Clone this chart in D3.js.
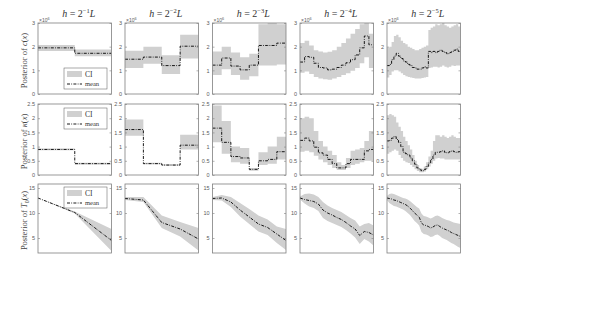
<!DOCTYPE html>
<html>
<head>
<meta charset="utf-8">
<script src="https://cdn.jsdelivr.net/npm/d3@7"></script>
<style>
  body { margin: 0; background: #fff; }
  svg { display: block; }
</style>
</head>
<body>
<div class="chart"></div>
<script>
// ---- data ----
const h_exponents = ["-1", "-2", "-3", "-4", "-5"];

// row 1 : c(x), x10^6, piecewise constant
const c_mean_1 = [1.95, 1.72];
const c_lo_1 = [1.82, 1.6];
const c_hi_1 = [2.07, 1.88];
const c_mean_2 = [1.47, 1.56, 1.2, 2.02];
const c_lo_2 = [1.1, 1.28, 0.85, 1.5];
const c_hi_2 = [1.83, 2.0, 1.64, 2.5];
const c_mean_3 = [1.22, 1.52, 1.18, 1.02, 1.22, 2.05, 2.05, 2.15];
const c_lo_3 = [0.8, 1.05, 0.8, 0.6, 0.75, 1.2, 1.2, 1.25];
const c_hi_3 = [1.8, 2.0, 1.75, 1.55, 1.7, 2.95, 3.0, 2.95];
const c_mean_4 = [1.35, 1.58, 1.55, 1.3, 1.12, 1.1, 1.02, 1.05, 1.12, 1.22, 1.32, 1.45, 1.65, 1.95, 2.45, 2.08];
const c_lo_4 = [0.9, 0.95, 0.85, 0.72, 0.65, 0.62, 0.6, 0.65, 0.72, 0.8, 0.88, 0.98, 1.1, 1.3, 1.55, 1.1];
const c_hi_4 = [2.15, 2.25, 2.05, 1.85, 1.8, 1.75, 1.78, 1.85, 2.0, 2.15, 2.35, 2.55, 2.75, 2.95, 3.0, 2.55];
const c_mean_5 = [1.2, 1.25, 1.45, 1.6, 1.72, 1.6, 1.5, 1.4, 1.35, 1.25, 1.2, 1.12, 1.1, 1.05, 1.05, 1.1,
                  1.15, 1.1, 1.8, 1.75, 1.8, 1.75, 1.8, 1.85, 1.8, 1.75, 1.7, 1.75, 1.8, 1.85, 1.9, 1.8];
const c_lo_5 = [0.7, 0.8, 0.95, 1.0, 1.0, 0.95, 0.88, 0.8, 0.75, 0.72, 0.7, 0.68, 0.66, 0.65, 0.66, 0.68,
                0.7, 0.72, 1.1, 1.12, 1.15, 1.15, 1.12, 1.15, 1.2, 1.15, 1.12, 1.15, 1.2, 1.18, 1.2, 1.2];
const c_hi_5 = [1.95, 2.0, 2.2, 2.45, 2.5, 2.4, 2.25, 2.15, 2.1, 2.0, 1.95, 1.9, 1.85, 1.85, 1.9, 1.95,
                2.0, 2.05, 2.7, 2.8, 2.85, 2.95, 2.9, 2.95, 3.0, 2.9, 2.85, 2.8, 2.85, 2.9, 2.95, 2.85];

// row 2 : kappa(x), piecewise constant
const k_mean_1 = [0.9, 0.4];
const k_lo_1 = [0.87, 0.37];
const k_hi_1 = [0.93, 0.43];
const k_mean_2 = [1.6, 0.4, 0.35, 1.05];
const k_lo_2 = [1.38, 0.38, 0.33, 0.9];
const k_hi_2 = [1.95, 0.43, 0.38, 1.42];
const k_mean_3 = [1.65, 1.15, 0.65, 0.6, 0.2, 0.5, 0.55, 0.82];
const k_lo_3 = [1.15, 0.75, 0.45, 0.4, 0.15, 0.35, 0.4, 0.55];
const k_hi_3 = [2.45, 1.9, 1.0, 0.95, 0.25, 0.8, 1.0, 1.35];
const k_mean_4 = [1.22, 1.3, 1.2, 0.98, 0.78, 0.7, 0.55, 0.4, 0.25, 0.25, 0.4, 0.55, 0.55, 0.55, 0.85, 0.9];
const k_lo_4 = [0.82, 0.85, 0.8, 0.68, 0.55, 0.45, 0.35, 0.25, 0.18, 0.18, 0.25, 0.35, 0.4, 0.45, 0.5, 0.5];
const k_hi_4 = [2.0, 2.05, 2.0, 1.55, 1.2, 1.0, 0.85, 0.7, 0.45, 0.35, 0.6, 0.85, 0.9, 0.95, 1.2, 1.55];
const k_mean_5 = [1.2, 1.22, 1.3, 1.35, 1.25, 1.15, 1.0, 0.8, 0.75, 0.7, 0.6, 0.5, 0.38, 0.25, 0.18, 0.15,
                  0.2, 0.3, 0.42, 0.55, 0.7, 0.8, 0.8, 0.82, 0.85, 0.8, 0.78, 0.82, 0.85, 0.82, 0.8, 0.82];
const k_lo_5 = [0.75, 0.8, 0.85, 0.9, 0.85, 0.7, 0.6, 0.5, 0.45, 0.42, 0.35, 0.28, 0.2, 0.14, 0.1, 0.1,
                0.12, 0.2, 0.3, 0.4, 0.5, 0.58, 0.6, 0.58, 0.58, 0.55, 0.55, 0.55, 0.55, 0.55, 0.55, 0.55];
const k_hi_5 = [2.1, 2.15, 2.1, 2.05, 1.85, 1.7, 1.55, 1.35, 1.2, 1.05, 0.9, 0.7, 0.5, 0.35, 0.25, 0.22,
                0.3, 0.45, 0.65, 0.85, 1.2, 1.4, 1.4, 1.35, 1.4, 1.35, 1.3, 1.35, 1.4, 1.35, 1.3, 1.3];

// row 3 : T0(x), values at nodes (linear)
const t_mean_1 = [13, 10.1, 4.5];
const t_lo_1 = [13, 9.9, 2.4];
const t_hi_1 = [13, 10.3, 6.8];
const t_mean_2 = [12.9, 12.6, 8.1, 6.8, 4.8];
const t_lo_2 = [12.6, 12.2, 7.0, 5.3, 2.5];
const t_hi_2 = [13.2, 13.2, 9.5, 8.2, 7.0];
const t_mean_3 = [12.9, 13.0, 12.2, 10.6, 9.2, 7.8, 7.1, 5.8, 4.5];
const t_lo_3 = [12.6, 12.5, 11.2, 9.3, 7.8, 6.3, 5.6, 4.0, 2.6];
const t_hi_3 = [13.2, 13.6, 13.2, 12.0, 10.8, 9.5, 8.7, 7.3, 6.8];
const t_mean_4 = [13.0, 12.7, 12.5, 12.3, 11.8, 10.6, 10.0, 9.6, 9.1, 8.7, 8.1, 7.4, 6.8, 5.5, 6.3, 6.1, 5.6];
const t_lo_4 = [12.7, 11.9, 11.3, 11.0, 10.4, 9.0, 8.4, 8.0, 7.6, 7.2, 6.6, 5.9, 5.1, 3.8, 4.8, 4.3, 3.5];
const t_hi_4 = [13.3, 13.8, 13.9, 13.7, 13.2, 12.2, 11.5, 11.0, 10.6, 10.2, 9.6, 9.0, 8.5, 7.3, 7.8, 8.0, 7.5];
const t_mean_5 = [13.0, 12.9, 12.8, 12.6, 12.5, 12.3, 12.1, 11.9, 11.7, 11.4, 11.0, 10.5, 10.0, 9.6, 9.2, 8.0,
                  7.6, 7.5, 7.3, 7.0, 7.2, 7.5, 7.6, 7.3, 7.0, 6.8, 6.6, 6.4, 6.1, 5.9, 5.7, 5.5, 5.3];
const t_lo_5 = [12.6, 12.0, 11.7, 11.4, 11.3, 11.1, 10.9, 10.7, 10.4, 10.0, 9.6, 9.0, 8.4, 8.0, 7.5, 6.2,
                5.8, 5.7, 5.5, 5.2, 5.3, 5.6, 5.7, 5.4, 5.0, 4.8, 4.6, 4.3, 4.0, 3.8, 3.5, 3.2, 3.0];
const t_hi_5 = [13.4, 13.8, 13.9, 13.8, 13.6, 13.4, 13.2, 13.0, 12.9, 12.7, 12.4, 12.0, 11.6, 11.2, 10.9, 9.9,
                9.4, 9.3, 9.1, 8.9, 9.1, 9.4, 9.5, 9.3, 9.0, 8.8, 8.6, 8.5, 8.3, 8.1, 8.0, 7.9, 7.8];

const c_ticks = [0, 1, 2, 3];
const k_ticks = [0, 0.5, 1, 1.5, 2, 2.5];
const t_ticks = [5, 10, 15];

// tables built from the arrays above
const rows = [
  { name: "c", sym: "c", sub: "", domain: [0, 3], ticks: c_ticks, step: true, exp: true,
    panels: [[c_mean_1, c_lo_1, c_hi_1], [c_mean_2, c_lo_2, c_hi_2], [c_mean_3, c_lo_3, c_hi_3],
             [c_mean_4, c_lo_4, c_hi_4], [c_mean_5, c_lo_5, c_hi_5]] },
  { name: "k", sym: "\u03BA", sub: "", domain: [0, 2.5], ticks: k_ticks, step: true, exp: false,
    panels: [[k_mean_1, k_lo_1, k_hi_1], [k_mean_2, k_lo_2, k_hi_2], [k_mean_3, k_lo_3, k_hi_3],
             [k_mean_4, k_lo_4, k_hi_4], [k_mean_5, k_lo_5, k_hi_5]] },
  { name: "t", sym: "T", sub: "0", domain: [2, 15.8], ticks: t_ticks, step: false, exp: false,
    panels: [[t_mean_1, t_lo_1, t_hi_1], [t_mean_2, t_lo_2, t_hi_2], [t_mean_3, t_lo_3, t_hi_3],
             [t_mean_4, t_lo_4, t_hi_4], [t_mean_5, t_lo_5, t_hi_5]] },
];

// ---- layout ----
const W = 591, H = 325;
const col_left = [38, 125, 212.5, 300, 387];
const panel_w = 73.5;
const row_top = [23, 104, 184];
const row_bottom = [94, 175, 253];
const legend_top = [68, 108, 187];

const frame_color = "#7f7f7f";
const tick_color = "#5a5a5a";
const ci_color = "#d0d0d0";
const serif = "'Liberation Serif', 'DejaVu Serif', serif";
const sans = "'Liberation Sans', Arial, sans-serif";
const dash = "3,1.3,0.8,1.3";

const svg = d3.select(".chart").append("svg")
  .attr("width", W)
  .attr("height", H);

rows.forEach((row, r) => {
  row.panels.forEach((p, j) => {
    const [mean, lo, hi] = p;
    const x = d3.scaleLinear().domain([0, 1]).range([col_left[j], col_left[j] + panel_w]);
    const y = d3.scaleLinear().domain(row.domain).range([row_bottom[r], row_top[r]]);

    let pts;
    if (row.step) {
      const n = mean.length;
      pts = mean.map((m, i) => ({ x: i / n, m: m, lo: lo[i], hi: hi[i] }));
      pts.push({ x: 1, m: mean[n - 1], lo: lo[n - 1], hi: hi[n - 1] });
    } else {
      const n = mean.length - 1;
      pts = mean.map((m, i) => ({ x: i / n, m: m, lo: lo[i], hi: hi[i] }));
    }
    const curve = row.step ? d3.curveStepAfter : d3.curveLinear;

    const clip_id = `clip-${r}-${j}`;
    svg.append("clipPath").attr("id", clip_id)
      .append("rect")
        .attr("x", x(0)).attr("y", row_top[r])
        .attr("width", panel_w).attr("height", row_bottom[r] - row_top[r]);

    const g = svg.append("g").attr("class", `panel panel-${row.name}-${j + 1}`);
    const plot = g.append("g").attr("clip-path", `url(#${clip_id})`);

    // CI band
    plot.append("path")
      .datum(pts)
      .attr("fill", ci_color)
      .attr("d", d3.area().x(d => x(d.x)).y0(d => y(d.lo)).y1(d => y(d.hi)).curve(curve));

    // mean
    plot.append("path")
      .datum(pts)
      .attr("fill", "none")
      .attr("stroke", "#000")
      .attr("stroke-width", 0.9)
      .attr("stroke-dasharray", dash)
      .attr("d", d3.line().x(d => x(d.x)).y(d => y(d.m)).curve(curve));

    // frame
    g.append("rect")
      .attr("x", x(0)).attr("y", row_top[r])
      .attr("width", panel_w).attr("height", row_bottom[r] - row_top[r])
      .attr("fill", "none")
      .attr("stroke", frame_color)
      .attr("stroke-width", 0.8);

    // y axis, ticks pointing in, on both sides
    const fmt = d => (row.name === "k" ? d3.format("")(d) : d3.format("d")(d));
    const yaxis = g.append("g")
      .attr("transform", `translate(${x(0)},0)`)
      .call(d3.axisLeft(y).tickValues(row.ticks).tickSize(-2).tickPadding(3).tickFormat(fmt));
    yaxis.select(".domain").remove();
    yaxis.selectAll("line").attr("stroke", frame_color).attr("stroke-width", 0.6);
    yaxis.selectAll("text")
      .attr("fill", tick_color)
      .style("font-family", sans)
      .style("font-size", "5.5px");
    const yaxis_r = g.append("g")
      .attr("transform", `translate(${x(1)},0)`)
      .call(d3.axisRight(y).tickValues(row.ticks).tickSize(-2).tickFormat(""));
    yaxis_r.select(".domain").remove();
    yaxis_r.selectAll("line").attr("stroke", frame_color).attr("stroke-width", 0.6);

    // x10^6 multiplier
    if (row.exp) {
      const m = g.append("text")
        .attr("x", x(0) + 1)
        .attr("y", row_top[r] - 1.5)
        .attr("fill", tick_color)
        .style("font-family", sans)
        .style("font-size", "5px");
      m.append("tspan").text("\u00D710");
      m.append("tspan").attr("dy", -2).style("font-size", "3.8px").text("6");
    }

    // column title
    if (r === 0) {
      const t = svg.append("text")
        .attr("x", x(0.5) + 4)
        .attr("y", 17)
        .attr("text-anchor", "middle")
        .attr("fill", "#333")
        .style("font-family", serif)
        .style("font-size", "10px");
      t.append("tspan").style("font-style", "italic").text("h");
      t.append("tspan").text(" = 2");
      t.append("tspan").attr("dy", -4).style("font-size", "6.5px").text(h_exponents[j].replace("-", "\u2212"));
      t.append("tspan").attr("dy", 4).style("font-style", "italic").text("L");
    }
  });

  // y label
  const cy = (row_top[r] + row_bottom[r]) / 2 + 2;
  const lab = svg.append("text")
    .attr("transform", `translate(27,${cy}) rotate(-90)`)
    .attr("text-anchor", "middle")
    .attr("fill", "#444")
    .style("font-family", serif)
    .style("font-size", "8.5px");
  lab.append("tspan").text("Posterior of ");
  lab.append("tspan").style("font-style", "italic").text(row.sym);
  if (row.sub) {
    lab.append("tspan").attr("dy", 2).style("font-size", "6px").text(row.sub);
    lab.append("tspan").attr("dy", -2).text("(");
  } else {
    lab.append("tspan").text("(");
  }
  lab.append("tspan").style("font-style", "italic").text("x");
  lab.append("tspan").text(")");

  // legend in first column
  const lx = 64, ly = legend_top[r];
  const leg = svg.append("g").attr("class", "legend")
    .attr("transform", `translate(${lx},${ly})`);
  leg.append("rect")
    .attr("width", 43).attr("height", 21)
    .attr("fill", "#fff")
    .attr("stroke", "#555")
    .attr("stroke-width", 0.5);
  leg.append("rect")
    .attr("x", 3).attr("y", 3)
    .attr("width", 15).attr("height", 6)
    .attr("fill", ci_color);
  leg.append("text")
    .attr("x", 21).attr("y", 8.5)
    .attr("fill", "#333")
    .style("font-family", serif)
    .style("font-size", "7.5px")
    .text("CI");
  leg.append("line")
    .attr("x1", 3).attr("x2", 18)
    .attr("y1", 16).attr("y2", 16)
    .attr("stroke", "#000")
    .attr("stroke-width", 0.9)
    .attr("stroke-dasharray", dash);
  leg.append("text")
    .attr("x", 21).attr("y", 18)
    .attr("fill", "#333")
    .style("font-family", serif)
    .style("font-size", "6.5px")
    .text("mean");
});
</script>
</body>
</html>
